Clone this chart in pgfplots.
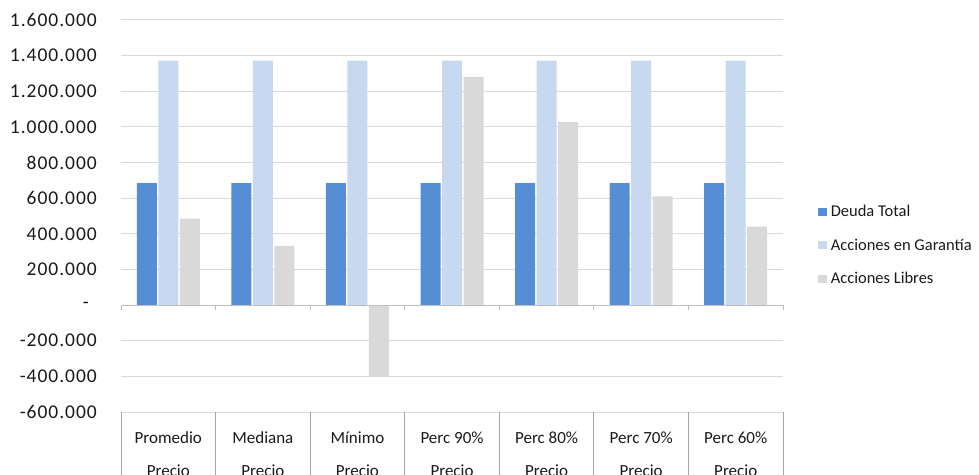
\documentclass[border=0pt]{standalone}
\usepackage{pgfplots}
\pgfplotsset{compat=1.18}
\usepackage{fontspec}
\setmainfont{Carlito}
\newfontfamily\tickfont[LetterSpace=5]{Carlito}
\definecolor{cDeuda}{HTML}{558ED5}
\definecolor{cGar}{HTML}{C6D9F1}
\definecolor{cLib}{HTML}{D9D9D9}
\definecolor{cGrid}{HTML}{D9D9D9}
\definecolor{cAxis}{HTML}{BFBFBF}
\definecolor{cSep}{HTML}{A6A6A6}
\definecolor{cTxt}{HTML}{1A1A1A}
\begin{document}
\begin{tikzpicture}[x=1pt,y=1pt]
\path[use as bounding box] (0,0) rectangle (979,474);
\begin{axis}[
  at={(121pt,62pt)}, anchor=south west,
  scale only axis, width=662pt, height=392pt,
  xmin=-0.5, xmax=6.5, ymin=-600000, ymax=1600000,
  clip=false,
  ybar=1.5pt, bar width=20pt,
  axis line style={draw=none},
  xtick={0,1,2,3,4,5,6},
  xticklabels={{Promedio\\Precio},{Mediana\\Precio},{Mínimo\\Precio},{Perc 90\%\\Precio},{Perc 80\%\\Precio},{Perc 70\%\\Precio},{Perc 60\%\\Precio}},
  xticklabel style={align=center, anchor=north, inner sep=0pt, yshift=-15pt, font=\fontsize{17pt}{33pt}\selectfont, text=cTxt},
  major x tick style={draw=none}, major y tick style={draw=none},
  ytick={-600000,-400000,-200000,0,200000,400000,600000,800000,1000000,1200000,1400000,1600000},
  yticklabels={-600.000,-400.000,-200.000,\makebox[14pt][l]{-},200.000,400.000,600.000,800.000,1.000.000,1.200.000,1.400.000,1.600.000},
  yticklabel style={anchor=east, inner sep=0pt, xshift=-24pt, font=\tickfont\fontsize{19.5pt}{22pt}\selectfont, text=cTxt},
  /pgf/number format/assume math mode=true,
  scaled y ticks=false,
  ymajorgrids, grid style={cGrid, line width=1pt},
  legend style={at={(1.053,0.530)}, anchor=north west, draw=none, fill=none, inner sep=0pt,
    font=\fontsize{16.5pt}{18pt}\selectfont, text=cTxt, row sep=18.5pt,
    nodes={inner sep=1pt}, /tikz/every odd column/.style={column sep=2.5pt}},
  legend cell align=left,
  legend image code/.code={\fill[#1] (0pt,-4pt) rectangle (9pt,4pt);},
]
\addplot[fill=cDeuda, draw=none] coordinates {(0,685000) (1,685000) (2,685000) (3,685000) (4,685000) (5,685000) (6,685000)};
\addplot[fill=cGar, draw=none] coordinates {(0,1372000) (1,1372000) (2,1372000) (3,1372000) (4,1372000) (5,1372000) (6,1372000)};
\addplot[fill=cLib, draw=none] coordinates {(0,485000) (1,332000) (2,-397000) (3,1279000) (4,1028000) (5,610000) (6,440000)};
\legend{Deuda Total, Acciones en Garantía, Acciones Libres}
\draw[cAxis, line width=1pt] (axis cs:-0.5,0) -- (axis cs:6.5,0);
\pgfplotsinvokeforeach{-0.5,0.5,1.5,2.5,3.5,4.5,5.5,6.5}{
  \draw[cAxis, line width=1pt] (axis cs:#1,0) -- (axis cs:#1,-28000);
  \draw[cSep, line width=1pt] (axis cs:#1,-600000) -- (axis cs:#1,-1000000);
}
\end{axis}
\end{tikzpicture}
\end{document}
